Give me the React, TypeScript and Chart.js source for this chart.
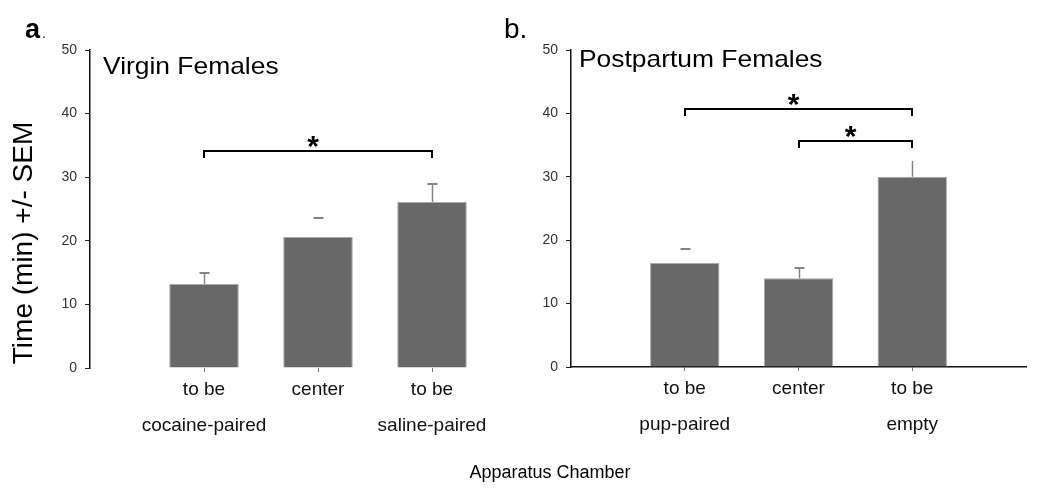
import React, { useEffect, useRef } from 'react';
import { Chart, registerables } from 'chart.js';
Chart.register(...registerables);

// ---- data ----
const categoriesA: any[] = ['', ['to be', 'cocaine-paired'], 'center', ['to be', 'saline-paired'], ''];
const valuesA = [null, 13.2, 20.6, 26.1, null];
const errorsA = [null, 1.7, 3.0, 2.8, null];
const bracketsA = [{ from: 1, to: 3, y: 34.1 }];

const categoriesB: any[] = ['', ['to be', 'pup-paired'], 'center', ['to be', 'empty'], ''];
const valuesB = [null, 16.4, 14.0, 30.0, null];
const errorsB = [null, 2.2, 1.6, 2.5, null];
const bracketsB = [
  { from: 1, to: 3, y: 40.7 },
  { from: 2, to: 3, y: 35.6 },
];

const yMin = 0;
const yMax = 50;
const yStep = 10;

// ---- styles ----
const FONT = "'Liberation Sans', Arial, sans-serif";
const NARROW = "'Liberation Sans Narrow', 'Liberation Sans', Arial, sans-serif";
const BAR_COLOR = '#686868';
const ERR_COLOR = '#858585';
const errStyleA = { noStem: [2], noCap: [] as number[] };
const errStyleB = { noStem: [1], noCap: [3] };

function stretchText(ctx: CanvasRenderingContext2D, text: string, x: number, y: number, sx: number) {
  ctx.save();
  ctx.translate(x, y);
  ctx.scale(sx, 1);
  ctx.fillText(text, 0, 0);
  ctx.restore();
}

function makeOverlay(cfg: {
  values: (number | null)[];
  errors: (number | null)[];
  errStyle: { noStem: number[]; noCap: number[] };
  brackets: { from: number; to: number; y: number }[];
  drawText: (ctx: CanvasRenderingContext2D, chart: any) => void;
}) {
  return {
    id: 'overlay',
    afterDraw(chart: any) {
      const ctx: CanvasRenderingContext2D = chart.ctx;
      const xs = chart.scales.x;
      const ys = chart.scales.y;
      ctx.save();
      // error bars
      cfg.errors.forEach((e, i) => {
        const v = cfg.values[i];
        if (e == null || v == null) return;
        const px = Math.round(xs.getPixelForValue(i)) + 0.5;
        const y0 = ys.getPixelForValue(v);
        const y1 = Math.round(ys.getPixelForValue(v + e));
        ctx.strokeStyle = ERR_COLOR;
        if (!cfg.errStyle.noStem.includes(i)) {
          ctx.lineWidth = 1.5;
          ctx.beginPath();
          ctx.moveTo(px, y0);
          ctx.lineTo(px, y1);
          ctx.stroke();
        }
        if (!cfg.errStyle.noCap.includes(i)) {
          ctx.lineWidth = 2;
          ctx.beginPath();
          ctx.moveTo(px - 5, y1);
          ctx.lineTo(px + 5, y1);
          ctx.stroke();
        }
      });
      // brackets & stars
      cfg.brackets.forEach((b) => {
        const xa = Math.round(xs.getPixelForValue(b.from));
        const xb = Math.round(xs.getPixelForValue(b.to));
        const yb = Math.round(ys.getPixelForValue(b.y));
        ctx.strokeStyle = '#000';
        ctx.lineWidth = 2;
        ctx.beginPath();
        ctx.moveTo(xa, yb + 7);
        ctx.lineTo(xa, yb);
        ctx.lineTo(xb, yb);
        ctx.lineTo(xb, yb + 7);
        ctx.stroke();
        ctx.fillStyle = '#000';
        ctx.font = `bold 30px ${FONT}`;
        ctx.textAlign = 'center';
        ctx.textBaseline = 'alphabetic';
        ctx.fillText('*', (xa + xb) / 2 - 5, yb + 5);
      });
      cfg.drawText(ctx, chart);
      ctx.restore();
    },
  };
}

function makeConfig(
  labels: any[],
  values: (number | null)[],
  axisWidth: number,
  rightPad: number,
  xHeight: number,
  showXBorder: boolean,
  overlay: any
) {
  return {
    type: 'bar' as const,
    data: {
      labels,
      datasets: [
        {
          data: values,
          backgroundColor: BAR_COLOR,
          borderColor: '#a9a9a9',
          borderWidth: 1,
          barPercentage: 0.61,
          categoryPercentage: 1,
        },
      ],
    },
    options: {
      responsive: false,
      animation: false as const,
      layout: { padding: { left: 0, right: rightPad, top: 50, bottom: 0 } },
      plugins: { legend: { display: false }, tooltip: { enabled: false }, title: { display: false } },
      scales: {
        x: {
          type: 'category' as const,
          offset: false,
          grid: {
            offset: false,
            drawOnChartArea: false,
            drawTicks: true,
            tickLength: 4,
            lineWidth: 1,
            color: (c: any) => (c.index === 0 || c.index === labels.length - 1 ? 'rgba(0,0,0,0)' : '#777'),
          },
          border: { display: showXBorder, color: '#111', width: 1.5 },
          ticks: {
            autoSkip: false,
            maxRotation: 0,
            minRotation: 0,
            padding: 0,
            color: '#111',
            font: { family: FONT, size: 19, lineHeight: 1.9 },
          },
          afterFit: (s: any) => {
            s.height = xHeight;
          },
        },
        y: {
          min: yMin,
          max: yMax,
          ticks: { stepSize: yStep, padding: 8, color: '#333', font: { family: NARROW, size: 14 } },
          grid: { drawOnChartArea: false, drawTicks: true, tickLength: 5, color: '#222', lineWidth: 1 },
          border: { display: true, color: '#111', width: 1.5 },
          afterFit: (s: any) => {
            s.width = axisWidth;
          },
        },
      },
    },
    plugins: [overlay],
  };
}

export default function App() {
  const refA = useRef<HTMLCanvasElement>(null);
  const refB = useRef<HTMLCanvasElement>(null);

  useEffect(() => {
    const overlayA = makeOverlay({
      values: valuesA,
      errors: errorsA,
      errStyle: errStyleA,
      brackets: bracketsA,
      drawText: (ctx, chart) => {
        ctx.fillStyle = '#000';
        ctx.textAlign = 'left';
        ctx.textBaseline = 'alphabetic';
        ctx.font = `bold 27px ${FONT}`;
        ctx.fillText('a', 25, 38);
        ctx.font = `14px ${FONT}`;
        ctx.fillText('.', 42, 38);
        ctx.font = `24px ${FONT}`;
        stretchText(ctx, 'Virgin Females', chart.chartArea.left + 13, 74, 1.1);
        // y axis title
        ctx.save();
        ctx.translate(32, 243);
        ctx.rotate(-Math.PI / 2);
        ctx.textAlign = 'center';
        ctx.font = `28px ${FONT}`;
        ctx.fillText('Time (min) +/- SEM', 0, 0);
        ctx.restore();
      },
    });
    const overlayB = makeOverlay({
      values: valuesB,
      errors: errorsB,
      errStyle: errStyleB,
      brackets: bracketsB,
      drawText: (ctx, chart) => {
        ctx.fillStyle = '#000';
        ctx.textAlign = 'left';
        ctx.textBaseline = 'alphabetic';
        ctx.font = `28px ${FONT}`;
        ctx.fillText('b.', 504, 38);
        ctx.font = `24px ${FONT}`;
        stretchText(ctx, 'Postpartum Females', chart.chartArea.left + 8, 67, 1.1);
        ctx.textAlign = 'center';
        ctx.font = `18px ${FONT}`;
        ctx.fillText('Apparatus Chamber', 550, 478);
      },
    });
    const cA = new Chart(refA.current as HTMLCanvasElement, makeConfig(categoriesA, valuesA, 90, 1050 - 546, 121, false, overlayA) as any);
    const cB = new Chart(refB.current as HTMLCanvasElement, makeConfig(categoriesB, valuesB, 571, 1050 - 1026, 122, true, overlayB) as any);
    return () => {
      cA.destroy();
      cB.destroy();
    };
  }, []);

  const canvasStyle: React.CSSProperties = { position: 'absolute', left: 0, top: 0, width: 1050, height: 489 };
  return (
    <div style={{ position: 'absolute', left: 0, top: 0, width: 1050, height: 489, background: '#fff' }}>
      <canvas ref={refA} width={1050} height={489} style={canvasStyle} />
      <canvas ref={refB} width={1050} height={489} style={canvasStyle} />
    </div>
  );
}
